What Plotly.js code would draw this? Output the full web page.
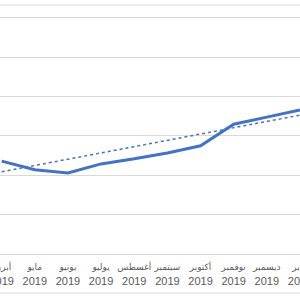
<!DOCTYPE html>
<html>
<head>
<meta charset="utf-8">
<script src="https://cdn.plot.ly/plotly-3.0.1.min.js"></script>
<style>html,body{margin:0;padding:0;background:#fff;}#chart{width:300px;height:300px;}</style>
</head>
<body>
<div id="chart"></div>
<script>
// Data (y in gridline units, axis = 0)
const months = ["أبريل", "مايو", "يونيو", "يوليو", "أغسطس", "سبتمبر", "أكتوبر", "نوفمبر", "ديسمبر", "يناير"];
const years = ["2019", "2019", "2019", "2019", "2019", "2019", "2019", "2019", "2019", "2020"];
const values = [2.36, 2.14, 2.06, 2.29, 2.42, 2.57, 2.75, 3.30, 3.48, 3.66];
const trendEnds = [2.09, 3.53];

const cats = months.map((m, i) => '<span style="font-size:9px">' + m + '</span><br>' + years[i]);

const traces = [
  {
    x: [cats[0], cats[cats.length - 1]],
    y: trendEnds,
    type: 'scatter', mode: 'lines',
    line: {color: '#4472C4', width: 1.5, dash: 'dot'},
    hoverinfo: 'skip'
  },
  {
    x: cats, y: values,
    type: 'scatter', mode: 'lines',
    line: {color: '#4472C4', width: 3},
    hoverinfo: 'skip'
  }
];

const layout = {
  width: 300, height: 300,
  margin: {l: 0, r: 0, t: 5, b: 46, pad: 0},
  paper_bgcolor: '#ffffff', plot_bgcolor: '#ffffff',
  showlegend: false,
  font: {family: 'Liberation Sans, Arial, DejaVu Sans, sans-serif', color: '#595959', size: 11},
  xaxis: {
    type: 'category',
    categoryorder: 'array', categoryarray: cats,
    range: [-0.05, 9.0],
    showgrid: false, zeroline: false,
    showline: true, linecolor: '#d9d9d9', linewidth: 1,
    ticks: '', tickfont: {size: 11, color: '#595959'},
    ticklabelstandoff: 2
  },
  yaxis: {
    range: [0, 6.33],
    dtick: 1, tick0: 0,
    showgrid: true, gridcolor: '#d9d9d9', gridwidth: 1,
    zeroline: false, showticklabels: false, ticks: ''
  },
  shapes: [
    {type: 'line', xref: 'paper', yref: 'paper', x0: 0, x1: 1, y0: 1, y1: 1, line: {color: '#d9d9d9', width: 1}},
    {type: 'line', xref: 'paper', yref: 'paper', x0: 0, x1: 1, y0: -0.157, y1: -0.157, line: {color: '#d9d9d9', width: 1}}
  ]
};

Plotly.newPlot('chart', traces, layout, {staticPlot: true, displayModeBar: false});
</script>
</body>
</html>
